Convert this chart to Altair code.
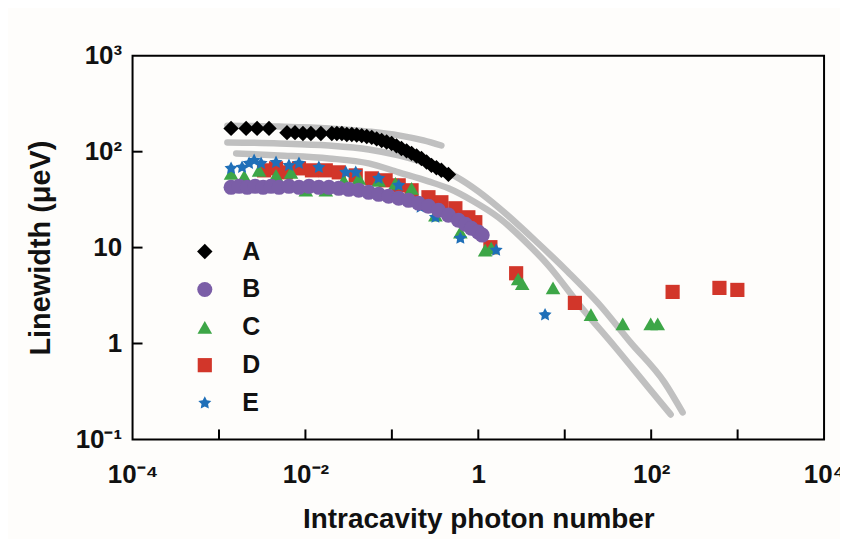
import altair as alt
import pandas as pd

# ---- data ----
A_x = [0.00138, 0.00206, 0.00276, 0.00379, 0.00612, 0.00757, 0.00936, 0.01156, 0.0151, 0.0202,
       0.0231, 0.0264, 0.0301, 0.0344, 0.0392, 0.0448, 0.0512, 0.0585, 0.0667, 0.0762, 0.0870,
       0.0993, 0.113, 0.129, 0.148, 0.169, 0.193, 0.220, 0.252, 0.287, 0.328, 0.374, 0.451]
A_y = [175, 175, 175, 175, 158, 158, 155, 155, 155, 155, 155, 155, 151, 151, 149, 147, 144,
       141, 136, 131, 126, 122, 115, 108, 102, 96, 90, 85, 78, 72, 68, 64, 58]

B_x = [0.00138, 0.00171, 0.00212, 0.00262, 0.00324, 0.00400, 0.00495, 0.00645, 0.00842, 0.0110,
       0.0143, 0.0187, 0.0243, 0.0317, 0.0414, 0.0540, 0.0704, 0.0917, 0.120, 0.156, 0.203,
       0.265, 0.346, 0.451, 0.588, 0.708, 0.830, 1.0, 1.11]
B_y = [42.5, 43.5, 42.5, 43.5, 42.5, 43.5, 42.5, 43.5, 42.5, 43.5, 42.5, 42.5, 41.5, 40.5,
       39.6, 37.7, 35.9, 34.3, 32.7, 31.1, 29.0, 27.0, 24.5, 21.8, 19.3, 17.5, 15.9, 14.5, 13.5]

C_x = [0.00138, 0.00196, 0.00291, 0.00457, 0.00681, 0.0101, 0.0172, 0.0278, 0.0414, 0.0704,
       0.110, 0.169, 0.319, 0.620, 1.20, 1.41, 2.89, 3.22, 7.32, 20.1, 46.9, 98.7, 119]
C_y = [59.4, 55.3, 63.9, 56.6, 60.9, 39.6, 39.6, 50.3, 52.7, 50.3, 46.8, 41.5, 21.8, 14.5,
       9.4, 9.9, 4.7, 4.2, 3.8, 2.0, 1.6, 1.6, 1.6]

D_x = [0.00332, 0.00457, 0.00596, 0.00842, 0.0119, 0.0172, 0.0243, 0.0382, 0.0585, 0.0847,
       0.120, 0.169, 0.265, 0.374, 0.543, 0.767, 0.923, 1.38, 2.74, 13.1, 177, 616, 993]
D_y = [63.9, 67.0, 60.9, 67.0, 63.9, 63.9, 60.9, 56.6, 52.7, 50.3, 44.6, 39.6, 33.5, 29.7,
       25.7, 20.7, 18.4, 10.1, 5.4, 2.65, 3.45, 3.80, 3.62]

E_x = [0.00138, 0.00185, 0.00223, 0.00255, 0.00307, 0.00457, 0.00645, 0.00842, 0.0143, 0.0293,
       0.0382, 0.0704, 0.120, 0.215, 0.319, 0.620, 1.61, 5.92]
E_y = [67.0, 68.6, 75.5, 81.1, 75.5, 77.3, 71.9, 75.5, 68.6, 60.9, 60.9, 52.7, 44.6, 26.4,
       20.7, 12.5, 9.4, 1.99]

# gray fit curves
F1_x = [0.00125, 0.00495, 0.0187, 0.0540, 0.120, 0.232, 0.374]
F1_y = [187, 183, 175, 162, 148, 131, 116]
F2_x = [0.00125, 0.00495, 0.0187, 0.0540, 0.120, 0.265, 0.543, 1.0, 1.70, 4.92, 10.9, 24.2,
        58.0, 143, 231]
F2_y = [125, 122, 116, 105.5, 91.4, 73.7, 55.3, 38.6, 26.4, 11.1, 5.57, 2.65, 1.02, 0.391, 0.191]
F3_x = [0.00158, 0.00495, 0.0187, 0.0540, 0.120, 0.265, 0.451, 0.876, 1.70, 4.08, 6.41, 15.4,
        38.0, 91.1, 168]
F3_y = [95.9, 91.4, 85.1, 75.5, 60.9, 49.1, 41.5, 30.4, 20.7, 10.1, 6.58, 2.41, 0.925, 0.355, 0.182]

STAR = ("M0,-1L0.294,-0.405L0.951,-0.309L0.476,0.155L0.588,0.809L0,0.5"
        "L-0.588,0.809L-0.476,0.155L-0.951,-0.309L-0.294,-0.405Z")

series = ["A", "B", "C", "D", "E"]
colors = ["#000000", "#7b5ea7", "#3da647", "#d2362a", "#1f6fb8"]
shapes = ["diamond", "circle", "triangle-up", "square", STAR]
sizes = [240, 190, 260, 160, 260]

x_ticks = [1e-3, 1e-2, 1e-1, 1, 10, 100, 1000]
x_labels_at = [1e-4, 1e-2, 1, 100, 1e4]
y_ticks = [1, 10, 100]
y_labels_at = [0.1, 1, 10, 100, 1000]

# ---- tables ----
rows = []
for name, xs, ys in [("D", D_x, D_y), ("C", C_x, C_y), ("E", E_x, E_y),
                     ("B", B_x, B_y), ("A", A_x, A_y)]:
    for x, y in zip(xs, ys):
        rows.append({"series": name, "x": x, "y": y})
pts = pd.DataFrame(rows)

lrows = []
for cid, xs, ys in [("f1", F1_x, F1_y), ("f2", F2_x, F2_y), ("f3", F3_x, F3_y)]:
    for i, (x, y) in enumerate(zip(xs, ys)):
        lrows.append({"curve": cid, "x": x, "y": y, "i": i})
lines = pd.DataFrame(lrows)

FONT = "Liberation Sans"
W, H = 694, 385

xscale = alt.Scale(type="log", domain=[1e-4, 1e4])
yscale = alt.Scale(type="log", domain=[0.1, 1000])

xaxis = alt.Axis(
    orient="bottom",
    values=x_labels_at, domain=False, ticks=False, tickSize=0, grid=False,
    labelExpr=("datum.value < 0.001 ? '10⁻⁴' : datum.value < 0.1 ? '10⁻²' : "
               "datum.value < 10 ? '1' : datum.value < 1000 ? '10²' : '10⁴'"),
    labelFont=FONT, labelFontSize=26, labelFontWeight="bold", labelColor="#111",
    labelPadding=22, labelFlush=False, labelOverlap=False, labelBound=False,
    title="Intracavity photon number", titleFont=FONT, titleFontSize=28,
    titleFontWeight="bold", titleColor="#111", titleY=88, titleBaseline="alphabetic",
)
yaxis = alt.Axis(
    orient="left",
    values=y_labels_at, domain=False, ticks=False, tickSize=0, grid=False,
    labelExpr=("datum.value < 0.5 ? '10⁻¹' : datum.value < 5 ? '1' : "
               "datum.value < 50 ? '10' : datum.value < 500 ? '10²' : '10³'"),
    labelFont=FONT, labelFontSize=26, labelFontWeight="bold", labelColor="#111",
    labelPadding=11, labelFlush=False, labelOverlap=False, labelBound=False,
    title="Linewidth (μeV)", titleFont=FONT, titleFontSize=29, titleFontWeight="bold",
    titleColor="#111", titleX=-83, titleY=H / 2, titleAngle=270,
    titleAlign="center", titleBaseline="alphabetic",
)

curves = alt.Chart(lines).mark_line(
    color="#c0c0c0", strokeWidth=6.5, strokeCap="round", interpolate="monotone"
).encode(
    x=alt.X("x:Q", scale=xscale, axis=xaxis),
    y=alt.Y("y:Q", scale=yscale, axis=yaxis),
    detail="curve:N",
    order="i:Q",
)

xt = alt.Chart(pd.DataFrame({"v": x_ticks})).mark_rule(color="black", strokeWidth=2).encode(
    x=alt.X("v:Q", scale=xscale, axis=xaxis),
    y=alt.value(H), y2=alt.value(H - 10),
)
yt = alt.Chart(pd.DataFrame({"v": y_ticks})).mark_rule(color="black", strokeWidth=2).encode(
    y=alt.Y("v:Q", scale=yscale, axis=yaxis),
    x=alt.value(0), x2=alt.value(10),
)

points = alt.Chart(pts).mark_point(filled=True, opacity=1, strokeWidth=0).encode(
    x=alt.X("x:Q", scale=xscale, axis=xaxis),
    y=alt.Y("y:Q", scale=yscale, axis=yaxis),
    color=alt.Color("series:N", scale=alt.Scale(domain=series, range=colors),
                    legend=alt.Legend(
                        title=None, orient="none", legendX=60, legendY=184,
                        padding=0, symbolSize=210, symbolStrokeWidth=0,
                        labelFont=FONT, labelFontSize=25, labelFontWeight="bold",
                        labelColor="#111", labelOffset=25, rowPadding=12)),
    shape=alt.Shape("series:N", scale=alt.Scale(domain=series, range=shapes)),
    size=alt.Size("series:N", scale=alt.Scale(domain=series, range=sizes), legend=None),
)

chart = alt.layer(curves, xt, yt, points).properties(
    width=W, height=H,
    autosize=alt.AutoSizeParams(type="none"),
    padding={"left": 125, "top": 47, "right": 16, "bottom": 99},
    background="#fefdfb",
).configure_view(stroke="black", strokeWidth=2)

chart.save("out.html", embed_options={"renderer": "svg", "actions": False})
